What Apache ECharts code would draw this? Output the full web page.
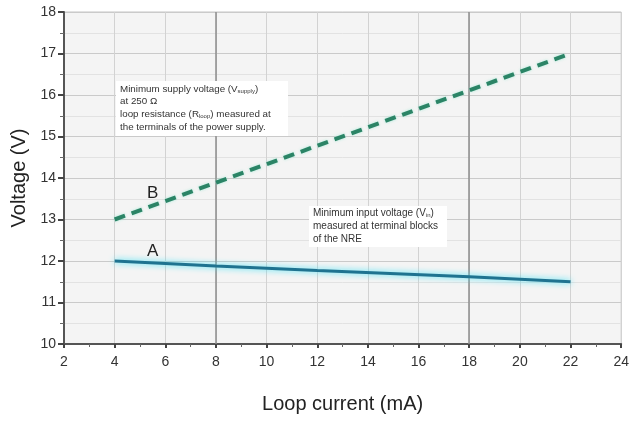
<!DOCTYPE html>
<html><head><meta charset="utf-8">
<script src="https://cdn.jsdelivr.net/npm/echarts@6/dist/echarts.min.js"></script>
<style>html,body{margin:0;padding:0;background:#fff}#c{width:632px;height:421px}</style>
</head><body><div id="c"></div>
<script>
const currentA = [4, 8, 12, 18, 22];
const voltageA = [12.0, 11.88, 11.77, 11.62, 11.5];
const currentB = [4, 22];
const voltageB = [13.0, 17.0];
const emphasisX = [8, 18];
const FONT = '"Liberation Sans", Arial, sans-serif';

const chart = echarts.init(document.getElementById('c'));
chart.setOption({
  animation: false,
  backgroundColor: '#fff',
  grid: {left: 64, right: 8, top: 12, bottom: 77, show: true, backgroundColor: '#f4f4f4', borderColor: '#c4c4c4', borderWidth: 1},
  xAxis: {
    type: 'value', min: 2, max: 24, interval: 2,
    name: 'Loop current (mA)', nameLocation: 'middle', nameGap: 50,
    nameTextStyle: {fontFamily: FONT, fontSize: 20, color: '#222'},
    axisLine: {show: true, lineStyle: {color: '#555', width: 2}},
    axisTick: {show: true, length: 4, lineStyle: {color: '#444', width: 2}},
    minorTick: {show: true, splitNumber: 2, length: 3, lineStyle: {color: '#666'}},
    axisLabel: {fontFamily: FONT, fontSize: 14, color: '#333', margin: 11},
    splitLine: {show: true, lineStyle: {color: '#d2d2d2', width: 1}}
  },
  yAxis: {
    type: 'value', min: 10, max: 18, interval: 1,
    name: 'Voltage (V)', nameLocation: 'middle', nameGap: 35,
    nameTextStyle: {fontFamily: FONT, fontSize: 20, color: '#222'},
    axisLine: {show: true, lineStyle: {color: '#555', width: 2}},
    axisTick: {show: true, length: 6, lineStyle: {color: '#444', width: 2}},
    minorTick: {show: true, splitNumber: 2, length: 4, lineStyle: {color: '#666'}},
    axisLabel: {fontFamily: FONT, fontSize: 14, color: '#333', margin: 8},
    splitLine: {show: true, lineStyle: {color: '#cacaca', width: 1.2}},
    minorSplitLine: {show: true, lineStyle: {color: '#e2e2e2', width: 1}}
  },
  series: [
    {
      type: 'line', data: currentA.map((x, i) => [x, voltageA[i]]),
      symbol: 'none', smooth: false, z: 5,
      lineStyle: {color: '#1f7390', width: 3, shadowColor: 'rgba(60,225,245,1)', shadowBlur: 6},
      markLine: {
        silent: true, symbol: 'none', label: {show: false},
        lineStyle: {color: '#8c8c8c', width: 1.5, type: 'solid'},
        data: emphasisX.map(x => ({xAxis: x}))
      },
      markPoint: {
        symbol: 'circle', symbolSize: 0,
        label: {show: true, formatter: 'A', fontFamily: FONT, fontSize: 17, color: '#222'},
        data: [{coord: [5.5, 12.23]}]
      }
    },
    {
      type: 'line', data: currentB.map((x, i) => [x, voltageB[i]]),
      symbol: 'none', z: 6,
      lineStyle: {color: '#2b8466', width: 4, type: [11, 7], shadowColor: 'rgba(120,230,200,0.6)', shadowBlur: 3},
      markPoint: {
        symbol: 'circle', symbolSize: 0,
        label: {show: true, formatter: 'B', fontFamily: FONT, fontSize: 17, color: '#222'},
        data: [{coord: [5.5, 13.62]}]
      }
    }
  ],
  graphic: [
    {
      type: 'rect', left: 116, top: 81, z: 10, silent: true,
      shape: {width: 172, height: 55}, style: {fill: '#ffffff'}
    },
    {
      type: 'text', left: 120, top: 84, z: 11, silent: true,
      style: {
        text: '{n|Minimum supply voltage (V}{s|supply}{n|)}\n{n|at 250 \u03A9}\n{n|loop resistance (R}{s|loop}{n|) measured at}\n{n|the terminals of the power supply.}',
        rich: {
          n: {fontFamily: FONT, fontSize: 9.8, fill: '#333', lineHeight: 12.7},
          s: {fontFamily: FONT, fontSize: 6, fill: '#333', lineHeight: 12.7, padding: [4, 0, 0, 0]}
        }
      }
    },
    {
      type: 'rect', left: 309, top: 206, z: 10, silent: true,
      shape: {width: 138, height: 41}, style: {fill: '#ffffff'}
    },
    {
      type: 'text', left: 313, top: 208, z: 11, silent: true,
      style: {
        text: '{n|Minimum input voltage (V}{s|in}{n|)}\n{n|measured at terminal blocks}\n{n|of the NRE}',
        rich: {
          n: {fontFamily: FONT, fontSize: 10, fill: '#333', lineHeight: 13},
          s: {fontFamily: FONT, fontSize: 6, fill: '#333', lineHeight: 13, padding: [4, 0, 0, 0]}
        }
      }
    }
  ]
});
</script></body></html>
